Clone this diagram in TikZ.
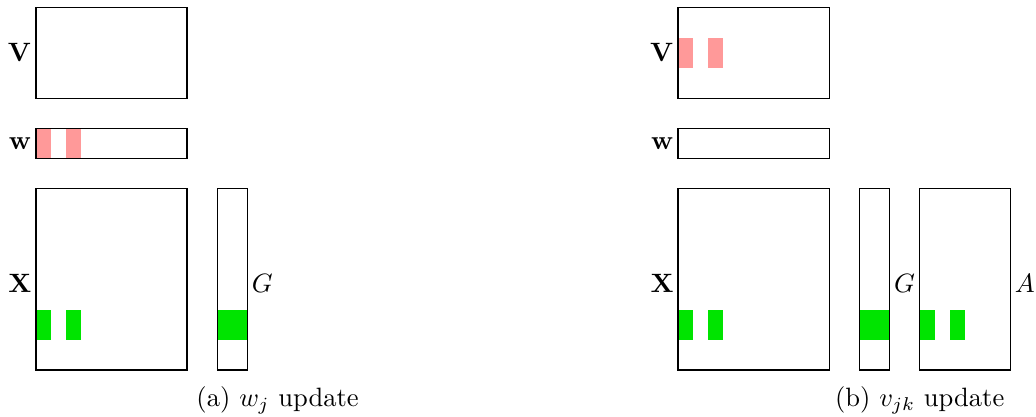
\documentclass[tikz,border=0pt]{standalone}
\usepackage{amsmath}
\definecolor{pinkbar}{RGB}{255,153,153}
\definecolor{greenbar}{RGB}{0,228,0}
\tikzset{
  mat/.style={draw=black,line width=0.45pt},
  pk/.style={fill=pinkbar},
  gr/.style={fill=greenbar},
  lab/.style={inner sep=1.5pt},
  captext/.style={anchor=base,inner sep=0pt}
}
\begin{document}
\begin{tikzpicture}[x=0.4cm,y=0.4cm]
\useasboundingbox (-1.19,-1.556) rectangle (33.11,12.25);
% ---------- panel (a) ----------
\begin{scope}
  \fill[pk] (0,7) rectangle (0.5,8);
  \fill[pk] (1,7) rectangle (1.5,8);
  \fill[gr] (0,1) rectangle (0.5,2);
  \fill[gr] (1,1) rectangle (1.5,2);
  \fill[gr] (6,1) rectangle (7,2);
  \draw[mat] (0,9) rectangle (5,12);
  \draw[mat] (0,7) rectangle (5,8);
  \draw[mat] (0,0) rectangle (5,6);
  \draw[mat] (6,0) rectangle (7,6);
  \node[lab,anchor=east] (aV) at (0,10.5) {$\mathbf{V}$};
  \node[lab,anchor=east] (aw) at (0,7.5) {$\mathbf{w}$};
  \node[lab,anchor=east] (aX) at (0,2.88) {$\mathbf{X}$};
  \node[lab,anchor=west] (aG) at (7,2.88) {$G$};
  \node[captext] (capa) at (8,-1.22) {(a) $w_j$ update};
\end{scope}
% ---------- panel (b) ----------
\begin{scope}[xshift=21.26*0.4cm]
  \fill[pk] (0,10) rectangle (0.5,11);
  \fill[pk] (1,10) rectangle (1.5,11);
  \fill[gr] (0,1) rectangle (0.5,2);
  \fill[gr] (1,1) rectangle (1.5,2);
  \fill[gr] (6,1) rectangle (7,2);
  \fill[gr] (8,1) rectangle (8.5,2);
  \fill[gr] (9,1) rectangle (9.5,2);
  \draw[mat] (0,9) rectangle (5,12);
  \draw[mat] (0,7) rectangle (5,8);
  \draw[mat] (0,0) rectangle (5,6);
  \draw[mat] (6,0) rectangle (7,6);
  \draw[mat] (8,0) rectangle (11,6);
  \node[lab,anchor=east] (bV) at (0,10.5) {$\mathbf{V}$};
  \node[lab,anchor=east] (bw) at (0,7.5) {$\mathbf{w}$};
  \node[lab,anchor=east] (bX) at (0,2.88) {$\mathbf{X}$};
  \node[lab,anchor=west] (bG) at (7,2.88) {$G$};
  \node[lab,anchor=west] (bA) at (11,2.88) {$A$};
  \node[captext] (capb) at (8,-1.22) {(b) $v_{jk}$ update};
\end{scope}
\end{tikzpicture}
\end{document}
